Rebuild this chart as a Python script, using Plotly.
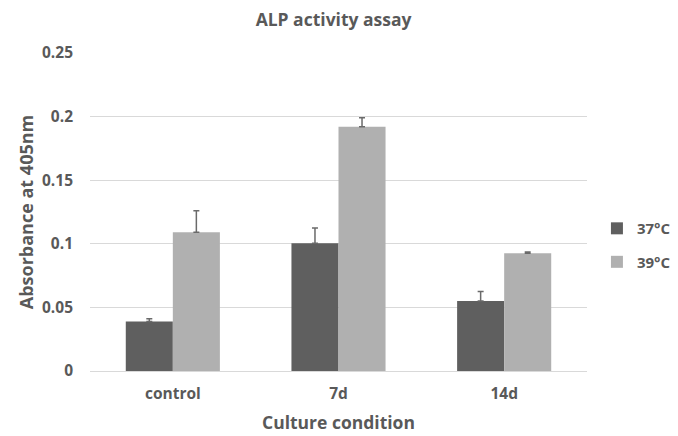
import plotly.graph_objects as go

categories = ["control", "7d", "14d"]
series_names = ["37°C", "39°C"]
values_37 = [0.039, 0.1005, 0.055]
errors_37 = [0.002, 0.012, 0.0075]
values_39 = [0.109, 0.192, 0.0925]
errors_39 = [0.017, 0.007, 0.001]
y_ticks = [0, 0.05, 0.1, 0.15, 0.2, 0.25]
y_tick_labels = ["0", "0.05", "0.1", "0.15", "0.2", "0.25"]

FONT = "Open Sans"
TXT = "#595959"

fig = go.Figure()
fig.add_trace(go.Bar(
    name="<b>%s</b>" % series_names[0], x=categories, y=values_37, legendgroup="a",
    marker=dict(color="#5f5f5f", line=dict(width=0)),
    error_y=dict(type="data", array=errors_37, symmetric=False, arrayminus=[0]*3,
                 color="#6a6a6a", thickness=1.5, width=3),
))
fig.add_trace(go.Bar(
    name="<b>%s</b>" % series_names[1], x=categories, y=values_39, legendgroup="b",
    marker=dict(color="#b0b0b0", line=dict(width=0)),
    error_y=dict(type="data", array=errors_39, symmetric=False, arrayminus=[0]*3,
                 color="#6a6a6a", thickness=1.5, width=3),
))

fig.update_layout(
    width=678, height=436,
    margin=dict(l=90, r=91, t=53, b=65, autoexpand=False),
    paper_bgcolor="white", plot_bgcolor="white",
    barmode="group", bargap=0.432, bargroupgap=0,
    font=dict(family=FONT, color=TXT),
    title=dict(text="<b>ALP activity assay</b>", x=0.492, xanchor="center",
               y=0.954, yanchor="middle", font=dict(size=17.5, color=TXT, family=FONT)),
    legend=dict(x=1.02, y=0.396, xanchor="left", yanchor="middle",
                font=dict(size=15, color=TXT, family=FONT),
                itemwidth=30, tracegroupgap=11, traceorder="grouped"),
    showlegend=True,
)
fig.update_xaxes(
    showgrid=False, showline=True, linecolor="#d9d9d9", linewidth=1,
    ticks="", tickfont=dict(size=15.5, color=TXT, family=FONT),
    ticklabelstandoff=8, automargin=False,
    title=dict(text="<b>Culture condition</b>", font=dict(size=17.5, color=TXT, family=FONT), standoff=14),
    tickprefix="<b>", ticksuffix="</b>",
)
fig.update_yaxes(
    range=[0, 0.25], tickvals=y_ticks, ticktext=["<b>%s</b>" % t for t in y_tick_labels],
    showgrid=True, gridcolor="#d9d9d9", gridwidth=1, zeroline=False, showline=False,
    ticks="", tickfont=dict(size=15.5, color=TXT, family=FONT), ticklabelstandoff=16,
    automargin=False,
    title=dict(text="<b>Absorbance at 405nm</b>", font=dict(size=18, color=TXT, family=FONT), standoff=3),
)

fig.write_html("out.html", config={"displayModeBar": False},
               post_script="document.body.style.margin='0';")
